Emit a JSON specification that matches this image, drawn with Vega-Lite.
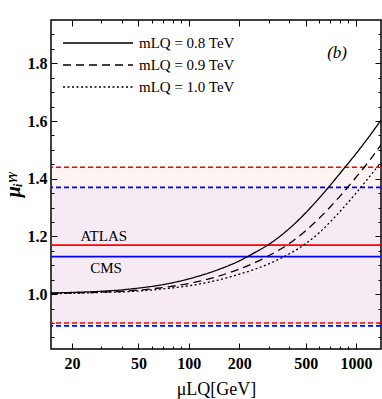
{
  "$schema": "https://vega.github.io/schema/vega-lite/v6.json",
  "width": 330,
  "height": 329,
  "autosize": "none",
  "padding": {"left": 51, "top": 20, "right": 1, "bottom": 50},
  "background": "white",
  "config": {
    "view": {"stroke": "black", "strokeWidth": 1.5},
    "font": "Liberation Serif",
    "axis": {"grid": false, "domain": false, "tickColor": "black", "labelColor": "black", "titleColor": "black"}
  },
  "datasets": {
    "curves": [
      {"mu": 15, "val": 1.004, "m": "mLQ = 0.8 TeV"},
      {"mu": 20, "val": 1.006, "m": "mLQ = 0.8 TeV"},
      {"mu": 30, "val": 1.010, "m": "mLQ = 0.8 TeV"},
      {"mu": 40, "val": 1.015, "m": "mLQ = 0.8 TeV"},
      {"mu": 50, "val": 1.021, "m": "mLQ = 0.8 TeV"},
      {"mu": 70, "val": 1.033, "m": "mLQ = 0.8 TeV"},
      {"mu": 100, "val": 1.053, "m": "mLQ = 0.8 TeV"},
      {"mu": 150, "val": 1.085, "m": "mLQ = 0.8 TeV"},
      {"mu": 200, "val": 1.115, "m": "mLQ = 0.8 TeV"},
      {"mu": 250, "val": 1.145, "m": "mLQ = 0.8 TeV"},
      {"mu": 300, "val": 1.172, "m": "mLQ = 0.8 TeV"},
      {"mu": 400, "val": 1.228, "m": "mLQ = 0.8 TeV"},
      {"mu": 500, "val": 1.282, "m": "mLQ = 0.8 TeV"},
      {"mu": 600, "val": 1.332, "m": "mLQ = 0.8 TeV"},
      {"mu": 700, "val": 1.377, "m": "mLQ = 0.8 TeV"},
      {"mu": 800, "val": 1.418, "m": "mLQ = 0.8 TeV"},
      {"mu": 1000, "val": 1.487, "m": "mLQ = 0.8 TeV"},
      {"mu": 1200, "val": 1.547, "m": "mLQ = 0.8 TeV"},
      {"mu": 1410, "val": 1.603, "m": "mLQ = 0.8 TeV"},
      {"mu": 15, "val": 1.003, "m": "mLQ = 0.9 TeV"},
      {"mu": 20, "val": 1.004, "m": "mLQ = 0.9 TeV"},
      {"mu": 30, "val": 1.007, "m": "mLQ = 0.9 TeV"},
      {"mu": 40, "val": 1.010, "m": "mLQ = 0.9 TeV"},
      {"mu": 50, "val": 1.014, "m": "mLQ = 0.9 TeV"},
      {"mu": 70, "val": 1.023, "m": "mLQ = 0.9 TeV"},
      {"mu": 100, "val": 1.037, "m": "mLQ = 0.9 TeV"},
      {"mu": 150, "val": 1.062, "m": "mLQ = 0.9 TeV"},
      {"mu": 200, "val": 1.087, "m": "mLQ = 0.9 TeV"},
      {"mu": 250, "val": 1.110, "m": "mLQ = 0.9 TeV"},
      {"mu": 300, "val": 1.133, "m": "mLQ = 0.9 TeV"},
      {"mu": 400, "val": 1.176, "m": "mLQ = 0.9 TeV"},
      {"mu": 500, "val": 1.220, "m": "mLQ = 0.9 TeV"},
      {"mu": 600, "val": 1.262, "m": "mLQ = 0.9 TeV"},
      {"mu": 700, "val": 1.302, "m": "mLQ = 0.9 TeV"},
      {"mu": 800, "val": 1.339, "m": "mLQ = 0.9 TeV"},
      {"mu": 1000, "val": 1.405, "m": "mLQ = 0.9 TeV"},
      {"mu": 1200, "val": 1.462, "m": "mLQ = 0.9 TeV"},
      {"mu": 1410, "val": 1.518, "m": "mLQ = 0.9 TeV"},
      {"mu": 15, "val": 1.002, "m": "mLQ = 1.0 TeV"},
      {"mu": 20, "val": 1.003, "m": "mLQ = 1.0 TeV"},
      {"mu": 30, "val": 1.006, "m": "mLQ = 1.0 TeV"},
      {"mu": 40, "val": 1.008, "m": "mLQ = 1.0 TeV"},
      {"mu": 50, "val": 1.011, "m": "mLQ = 1.0 TeV"},
      {"mu": 70, "val": 1.018, "m": "mLQ = 1.0 TeV"},
      {"mu": 100, "val": 1.029, "m": "mLQ = 1.0 TeV"},
      {"mu": 150, "val": 1.049, "m": "mLQ = 1.0 TeV"},
      {"mu": 200, "val": 1.069, "m": "mLQ = 1.0 TeV"},
      {"mu": 250, "val": 1.087, "m": "mLQ = 1.0 TeV"},
      {"mu": 300, "val": 1.105, "m": "mLQ = 1.0 TeV"},
      {"mu": 400, "val": 1.140, "m": "mLQ = 1.0 TeV"},
      {"mu": 500, "val": 1.175, "m": "mLQ = 1.0 TeV"},
      {"mu": 600, "val": 1.212, "m": "mLQ = 1.0 TeV"},
      {"mu": 700, "val": 1.250, "m": "mLQ = 1.0 TeV"},
      {"mu": 800, "val": 1.286, "m": "mLQ = 1.0 TeV"},
      {"mu": 1000, "val": 1.350, "m": "mLQ = 1.0 TeV"},
      {"mu": 1200, "val": 1.406, "m": "mLQ = 1.0 TeV"},
      {"mu": 1410, "val": 1.456, "m": "mLQ = 1.0 TeV"}
    ],
    "bands": [
      {"exp": "ATLAS", "lo": 0.90, "hi": 1.44},
      {"exp": "CMS", "lo": 0.89, "hi": 1.37}
    ],
    "lines": [
      {"exp": "ATLAS", "y": 1.17, "kind": "central"},
      {"exp": "ATLAS", "y": 1.44, "kind": "bound"},
      {"exp": "ATLAS", "y": 0.90, "kind": "bound"},
      {"exp": "CMS", "y": 1.13, "kind": "central"},
      {"exp": "CMS", "y": 1.37, "kind": "bound"},
      {"exp": "CMS", "y": 0.89, "kind": "bound"}
    ],
    "notes": [
      {"t": "ATLAS", "x": 31, "y": 1.2},
      {"t": "CMS", "x": 32, "y": 1.09}
    ],
    "panel": [
      {"t": "(b)", "x": 770, "y": 1.835}
    ]
  },
  "layer": [
    {
      "data": {"name": "bands"},
      "mark": {"type": "rect"},
      "encoding": {
        "y": {"field": "lo", "type": "quantitative", "scale": {"domain": [0.81, 1.95], "nice": false, "zero": false}, "axis": null},
        "y2": {"field": "hi"},
        "color": {"field": "exp", "type": "nominal", "scale": {"domain": ["ATLAS", "CMS"], "range": ["#ff0000", "#0000ff"]}, "legend": null},
        "opacity": {"field": "exp", "type": "nominal", "scale": {"domain": ["ATLAS", "CMS"], "range": [0.045, 0.035]}, "legend": null}
      }
    },
    {
      "data": {"name": "lines"},
      "transform": [{"filter": "datum.kind == 'central'"}],
      "mark": {"type": "rule", "strokeWidth": 1.6},
      "encoding": {
        "y": {"field": "y", "type": "quantitative", "axis": null},
        "color": {"field": "exp", "type": "nominal", "scale": {"domain": ["ATLAS", "CMS"], "range": ["#f03030", "#3030f0"]}, "legend": null}
      }
    },
    {
      "data": {"name": "lines"},
      "transform": [{"filter": "datum.kind == 'bound'"}],
      "mark": {"type": "rule", "strokeWidth": 1.6, "strokeDash": [5, 3]},
      "encoding": {
        "y": {"field": "y", "type": "quantitative", "axis": null},
        "color": {"field": "exp", "type": "nominal", "legend": null}
      }
    },
    {
      "data": {"name": "curves"},
      "mark": {"type": "line", "color": "black", "strokeWidth": 1.3, "interpolate": "monotone"},
      "encoding": {
        "x": {"field": "mu", "type": "quantitative", "scale": {"type": "log", "domain": [15, 1410], "nice": false},
          "axis": {"values": [20, 50, 100, 200, 500, 1000], "format": "d", "ticks": false, "labelFontSize": 16, "labelFontWeight": "bold", "labelPadding": 6, "labelFont": "Liberation Serif",
            "title": "μLQ[GeV]", "titleFontSize": 18, "titleFontWeight": "normal", "titleFont": "Liberation Serif", "titlePadding": 9}},
        "y": {"field": "val", "type": "quantitative",
          "axis": {"values": [1.0, 1.2, 1.4, 1.6, 1.8], "format": ".1f", "ticks": false, "labelFontSize": 16, "labelFontWeight": "bold", "labelPadding": 4, "labelFont": "Liberation Serif",
            "title": "μᵢᵞᵞ", "titleFontSize": 20, "titleFontWeight": "bold", "titleFontStyle": "italic", "titleFont": "Liberation Serif", "titlePadding": 4}},
        "strokeDash": {"field": "m", "type": "nominal",
          "scale": {"domain": ["mLQ = 0.8 TeV", "mLQ = 0.9 TeV", "mLQ = 1.0 TeV"], "range": [[1, 0], [8, 5], [2, 2.5]]},
          "legend": {"orient": "none", "legendX": 67, "legendY": 15, "title": null, "symbolType": "M-9,0H1", "symbolSize": 196,
            "symbolStrokeWidth": 1.5, "symbolStrokeColor": "black", "symbolFillColor": "transparent",
            "labelFont": "Liberation Serif", "labelFontSize": 15, "labelColor": "black", "rowPadding": 6, "labelOffset": 5, "padding": 0}}
      }
    },
    {
      "data": {"name": "curves"},
      "mark": {"type": "line", "opacity": 0},
      "encoding": {
        "x": {"field": "mu", "type": "quantitative", "axis": {"values": [20, 50, 100, 200, 500, 1000], "labels": false, "tickSize": -6, "tickWidth": 1, "title": null, "orient": "bottom"}},
        "y": {"field": "val", "type": "quantitative", "axis": {"values": [1.0, 1.2, 1.4, 1.6, 1.8], "labels": false, "tickSize": -6, "tickWidth": 1, "title": null, "orient": "left"}},
        "detail": {"field": "m"}
      }
    },
    {
      "data": {"name": "curves"},
      "mark": {"type": "line", "opacity": 0},
      "encoding": {
        "x": {"field": "mu", "type": "quantitative", "axis": {"values": [30, 40, 60, 70, 80, 90, 300, 400, 600, 700, 800, 900], "labels": false, "tickSize": -3, "tickWidth": 1, "title": null, "orient": "bottom"}},
        "y": {"field": "val", "type": "quantitative", "axis": {"values": [0.85, 0.9, 0.95, 1.05, 1.1, 1.15, 1.25, 1.3, 1.35, 1.45, 1.5, 1.55, 1.65, 1.7, 1.75, 1.85, 1.9], "labels": false, "tickSize": -3, "tickWidth": 1, "title": null, "orient": "left"}},
        "detail": {"field": "m"}
      }
    },
    {
      "data": {"name": "curves"},
      "mark": {"type": "line", "opacity": 0},
      "encoding": {
        "x": {"field": "mu", "type": "quantitative", "axis": {"values": [20, 50, 100, 200, 500, 1000], "labels": false, "tickSize": -6, "tickWidth": 1, "title": null, "orient": "top"}},
        "y": {"field": "val", "type": "quantitative", "axis": {"values": [1.0, 1.2, 1.4, 1.6, 1.8], "labels": false, "tickSize": -6, "tickWidth": 1, "title": null, "orient": "right"}},
        "detail": {"field": "m"}
      }
    },
    {
      "data": {"name": "curves"},
      "mark": {"type": "line", "opacity": 0},
      "encoding": {
        "x": {"field": "mu", "type": "quantitative", "axis": {"values": [30, 40, 60, 70, 80, 90, 300, 400, 600, 700, 800, 900], "labels": false, "tickSize": -3, "tickWidth": 1, "title": null, "orient": "top"}},
        "y": {"field": "val", "type": "quantitative", "axis": {"values": [0.85, 0.9, 0.95, 1.05, 1.1, 1.15, 1.25, 1.3, 1.35, 1.45, 1.5, 1.55, 1.65, 1.7, 1.75, 1.85, 1.9], "labels": false, "tickSize": -3, "tickWidth": 1, "title": null, "orient": "right"}},
        "detail": {"field": "m"}
      }
    },
    {
      "data": {"name": "notes"},
      "mark": {"type": "text", "font": "Liberation Serif", "fontSize": 15, "color": "black"},
      "encoding": {
        "x": {"field": "x", "type": "quantitative", "axis": null},
        "y": {"field": "y", "type": "quantitative", "axis": null},
        "text": {"field": "t"}
      }
    },
    {
      "data": {"name": "panel"},
      "mark": {"type": "text", "font": "Liberation Serif", "fontSize": 17, "fontStyle": "italic", "color": "black"},
      "encoding": {
        "x": {"field": "x", "type": "quantitative", "axis": null},
        "y": {"field": "y", "type": "quantitative", "axis": null},
        "text": {"field": "t"}
      }
    }
  ],
  "resolve": {"axis": {"x": "independent", "y": "independent"}}
}
